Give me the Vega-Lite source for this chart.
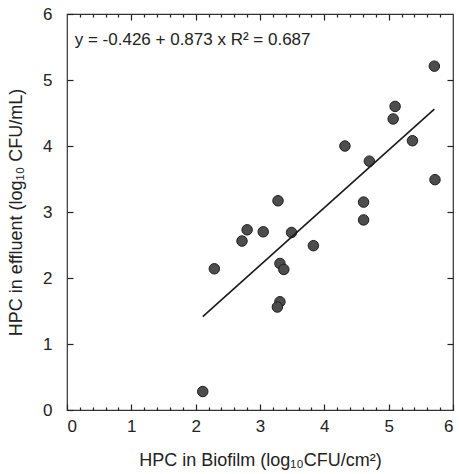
{
  "$schema": "https://vega.github.io/schema/vega-lite/v6.json",
  "width": 386,
  "height": 396,
  "autosize": {"type": "none"},
  "padding": {"left": 67, "top": 14, "right": 6, "bottom": 64},
  "background": "white",
  "config": {
    "view": {"stroke": "#333", "strokeWidth": 1.2},
    "axis": {
      "domain": false,
      "grid": false,
      "labelFont": "Liberation Sans",
      "titleFont": "Liberation Sans",
      "labelFontSize": 17,
      "titleFontSize": 18,
      "labelColor": "#222",
      "titleColor": "#222",
      "titleFontWeight": "normal",
      "tickColor": "#222",
      "tickWidth": 1.2
    }
  },
  "datasets": {
    "pts": [
      {"x": 2.11, "y": 0.28},
      {"x": 2.29, "y": 2.14},
      {"x": 2.72, "y": 2.56},
      {"x": 2.80, "y": 2.73},
      {"x": 3.05, "y": 2.70},
      {"x": 3.28, "y": 3.17},
      {"x": 3.31, "y": 2.22},
      {"x": 3.37, "y": 2.13},
      {"x": 3.31, "y": 1.64},
      {"x": 3.27, "y": 1.56},
      {"x": 3.49, "y": 2.69},
      {"x": 3.83, "y": 2.49},
      {"x": 4.32, "y": 4.00},
      {"x": 4.61, "y": 3.15},
      {"x": 4.61, "y": 2.88},
      {"x": 4.70, "y": 3.77},
      {"x": 5.07, "y": 4.41},
      {"x": 5.10, "y": 4.60},
      {"x": 5.37, "y": 4.08},
      {"x": 5.71, "y": 5.21},
      {"x": 5.72, "y": 3.49}
    ],
    "fit": [
      {"x": 2.11, "y": 1.416},
      {"x": 5.71, "y": 4.559}
    ],
    "label": [
      {"x": 0.12, "y": 5.6, "text": "y = -0.426 + 0.873 x R² = 0.687"}
    ]
  },
  "layer": [
    {
      "data": {"name": "pts"},
      "mark": {"type": "point", "filled": true, "fill": "#4d4d4d", "stroke": "#1e1e1e", "strokeWidth": 1, "size": 110, "opacity": 1},
      "encoding": {
        "x": {"field": "x", "type": "quantitative", "scale": {"domain": [0, 6], "nice": false, "zero": false},
          "axis": {"orient": "bottom", "values": [0, 1, 2, 3, 4, 5, 6], "offset": -6, "tickSize": 6, "labelPadding": 8, "title": "HPC in Biofilm (log₁₀CFU/cm²)", "titlePadding": 17}},
        "y": {"field": "y", "type": "quantitative", "scale": {"domain": [0, 6], "nice": false, "zero": false},
          "axis": {"orient": "left", "values": [0, 1, 2, 3, 4, 5, 6], "offset": -6, "tickSize": 6, "labelPadding": 15, "title": "HPC in effluent (log₁₀ CFU/mL)", "titlePadding": 17}}
      }
    },
    {
      "data": {"name": "fit"},
      "mark": {"type": "line", "color": "#1a1a1a", "strokeWidth": 1.6},
      "encoding": {
        "x": {"field": "x", "type": "quantitative",
          "axis": {"orient": "bottom", "values": [0.2, 0.4, 0.6, 0.8, 1.2, 1.4, 1.6, 1.8, 2.2, 2.4, 2.6, 2.8, 3.2, 3.4, 3.6, 3.8, 4.2, 4.4, 4.6, 4.8, 5.2, 5.4, 5.6, 5.8], "offset": -3, "tickSize": 3, "labels": false, "title": null}},
        "y": {"field": "y", "type": "quantitative",
          "axis": {"orient": "right", "values": [1, 2, 3, 4, 5], "offset": -6, "tickSize": 6, "labels": false, "title": null}}
      }
    },
    {
      "data": {"name": "label"},
      "mark": {"type": "text", "align": "left", "baseline": "middle", "font": "Liberation Sans", "fontSize": 17, "color": "#222"},
      "encoding": {
        "x": {"field": "x", "type": "quantitative",
          "axis": {"orient": "top", "values": [1, 2, 3, 4, 5], "offset": -6, "tickSize": 6, "labels": false, "title": null}},
        "y": {"field": "y", "type": "quantitative", "axis": null},
        "text": {"field": "text"}
      }
    },
    {
      "data": {"name": "label"},
      "mark": {"type": "point", "opacity": 0},
      "encoding": {
        "x": {"field": "x", "type": "quantitative",
          "axis": {"orient": "top", "values": [0.2, 0.4, 0.6, 0.8, 1.2, 1.4, 1.6, 1.8, 2.2, 2.4, 2.6, 2.8, 3.2, 3.4, 3.6, 3.8, 4.2, 4.4, 4.6, 4.8, 5.2, 5.4, 5.6, 5.8], "offset": -3, "tickSize": 3, "labels": false, "title": null}},
        "y": {"field": "y", "type": "quantitative", "axis": null}
      }
    }
  ],
  "resolve": {"axis": {"x": "independent", "y": "independent"}}
}
